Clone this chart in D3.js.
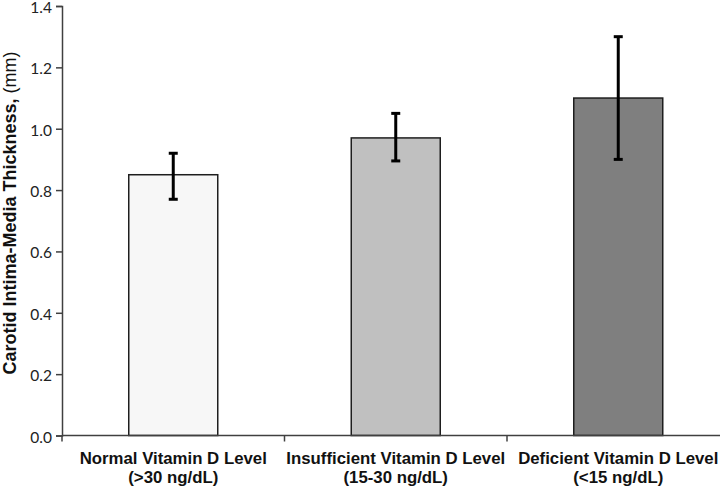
<!DOCTYPE html>
<html>
<head>
<meta charset="utf-8">
<script src="https://cdn.jsdelivr.net/npm/d3@7"></script>
<style>
  html, body { margin: 0; padding: 0; background: #fff; }
  svg { display: block; }
</style>
</head>
<body>
<svg id="chart" width="720" height="488"></svg>
<script>
const categories = ["Normal Vitamin D Level", "Insufficient Vitamin D Level", "Deficient Vitamin D Level"];
const subLabels = ["(>30 ng/dL)", "(15-30 ng/dL)", "(<15 ng/dL)"];
const means = [0.85, 0.97, 1.10];
const errLow = [0.77, 0.895, 0.90];
const errHigh = [0.92, 1.05, 1.30];
const barColors = ["#f7f7f7", "#c0c0c0", "#7f7f7f"];
const yTicks = [0, 0.2, 0.4, 0.6, 0.8, 1.0, 1.2, 1.4];

(function () {
const svg = d3.select("#chart");
const mLeft = 62, mRight = 729.5, mTop = 6, mBottom = 435.5;

const x = d3.scaleBand().domain(categories).range([mLeft, mRight])
  .paddingInner(0.6).paddingOuter(0.3);
const y = d3.scaleLinear().domain([0, 1.4]).range([mBottom, mTop]);

// bars
svg.append("g").selectAll("rect").data(categories).join("rect")
  .attr("x", d => x(d))
  .attr("y", (d, i) => y(means[i]))
  .attr("width", x.bandwidth())
  .attr("height", (d, i) => y(0) - y(means[i]))
  .attr("fill", (d, i) => barColors[i])
  .attr("stroke", "#1e1e1e")
  .attr("stroke-width", 1.5);

// error bars
const eb = svg.append("g").attr("stroke", "#000").attr("stroke-width", 3);
categories.forEach((c, i) => {
  const cx = x(c) + x.bandwidth() / 2;
  eb.append("line").attr("x1", cx).attr("x2", cx).attr("y1", y(errLow[i])).attr("y2", y(errHigh[i]));
  eb.append("line").attr("x1", cx - 4.5).attr("x2", cx + 4.5).attr("y1", y(errLow[i])).attr("y2", y(errLow[i]));
  eb.append("line").attr("x1", cx - 4.5).attr("x2", cx + 4.5).attr("y1", y(errHigh[i])).attr("y2", y(errHigh[i]));
});

// y axis
const yAxis = svg.append("g").attr("transform", `translate(${mLeft},0)`)
  .call(d3.axisLeft(y).tickValues(yTicks).tickFormat(d3.format(".1f")).tickSizeOuter(0).tickSize(6).tickPadding(4));
yAxis.select(".domain").attr("stroke", "#404040").attr("stroke-width", 1.5);
yAxis.selectAll(".tick line").attr("stroke", "#404040").attr("stroke-width", 1.5);
yAxis.selectAll(".tick text").attr("font-family", "Lato, 'Open Sans', sans-serif")
  .attr("font-size", 15.5).attr("fill", "#222").attr("dy", "0.42em");

// x axis line
svg.append("line").attr("x1", mLeft).attr("x2", 720).attr("y1", y(0)).attr("y2", y(0))
  .attr("stroke", "#404040").attr("stroke-width", 1.5);
// x ticks at band boundaries
const step = x.step();
const bounds = d3.range(categories.length + 1).map(i => mLeft + i * step);
svg.append("g").selectAll("line").data(bounds).join("line")
  .attr("x1", d => d).attr("x2", d => d)
  .attr("y1", y(0)).attr("y2", y(0) + 6)
  .attr("stroke", "#404040").attr("stroke-width", 1.5);

// category labels
const lab = svg.append("g").attr("font-family", "'Liberation Sans', Arial, sans-serif")
  .attr("font-weight", "bold").attr("font-size", 16.8).attr("fill", "#111")
  .attr("text-anchor", "middle");
categories.forEach((c, i) => {
  const cx = x(c) + x.bandwidth() / 2;
  lab.append("text").attr("x", cx).attr("y", 463.5).text(c);
  lab.append("text").attr("x", cx).attr("y", 482.5).text(subLabels[i]);
});

// y title
const t = svg.append("text")
  .attr("transform", `translate(16,213) rotate(-90)`)
  .attr("text-anchor", "middle")
  .attr("font-family", "'Liberation Sans', Arial, sans-serif")
  .attr("font-size", 18).attr("fill", "#111");
t.append("tspan").attr("font-weight", "bold").text("Carotid Intima-Media Thickness, ");
t.append("tspan").attr("font-weight", "normal").text("(mm)");
})();
</script>
</body>
</html>
